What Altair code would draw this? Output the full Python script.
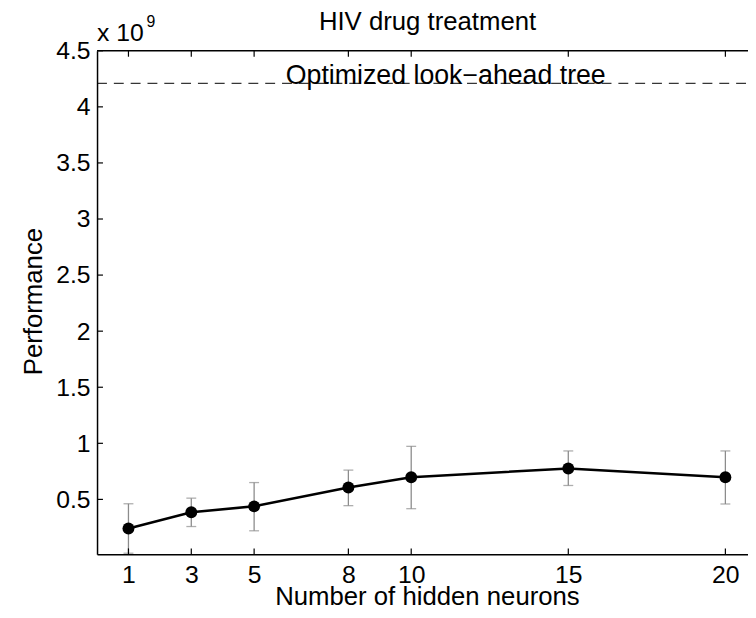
import altair as alt
import pandas as pd

# ---- data (performance in units of 1e9) ----
neurons = [1, 3, 5, 8, 10, 15, 20]
performance = [0.240, 0.385, 0.438, 0.606, 0.697, 0.776, 0.697]
err_low = [0.020, 0.258, 0.220, 0.444, 0.417, 0.624, 0.459]
err_high = [0.461, 0.511, 0.650, 0.761, 0.973, 0.932, 0.932]
x_ticks = [1, 3, 5, 8, 10, 15, 20]
y_ticks = [0.5, 1, 1.5, 2, 2.5, 3, 3.5, 4, 4.5]
reference_value = 4.21
reference_label = "Optimized look\u2212ahead tree"
title_text = "HIV drug treatment"
x_title = "Number of hidden neurons"
y_title = "Performance"

FONT = "Liberation Sans"
W, H = 658, 509
GRAY = "#8c8c8c"

df = pd.DataFrame({"n": neurons, "perf": performance, "lo": err_low, "hi": err_high})
xt = pd.DataFrame({"n": x_ticks})
yt = pd.DataFrame({"perf": y_ticks})
one = pd.DataFrame({"a": [0]})

x_scale = alt.Scale(domain=[0, 20.72], nice=False, zero=False)
y_scale = alt.Scale(domain=[0.01, 4.5], nice=False, zero=False)

x_axis = alt.Axis(values=x_ticks, format="d", title=x_title, grid=False, ticks=False,
                  domain=True, domainColor="black", domainWidth=1.5,
                  labelFont=FONT, labelFontSize=25, labelColor="black",
                  labelBaseline="alphabetic", labelPadding=28, labelFlush=False,
                  titleFont=FONT, titleFontSize=26, titleFontWeight="normal", titleColor="black",
                  titleX=333.5, titleY=51, titleAlign="center", titleBaseline="alphabetic")
y_axis = alt.Axis(values=y_ticks, format=".1~f", title=y_title, grid=False, ticks=False,
                  domain=True, domainColor="black", domainWidth=1.5,
                  labelFont=FONT, labelFontSize=25, labelColor="black",
                  labelBaseline="middle", labelPadding=7, labelFlush=False,
                  titleFont=FONT, titleFontSize=26, titleFontWeight="normal", titleColor="black",
                  titleAngle=270, titleX=-56, titleY=253, titleAlign="center",
                  titleBaseline="alphabetic")

line = alt.Chart(df).mark_line(color="black", strokeWidth=2.6).encode(
    x=alt.X("n:Q", scale=x_scale, axis=x_axis),
    y=alt.Y("perf:Q", scale=y_scale, axis=y_axis),
)
bars = alt.Chart(df).mark_rule(color=GRAY, strokeWidth=1.3).encode(
    x="n:Q", y="lo:Q", y2="hi:Q")
cap_lo = alt.Chart(df).mark_tick(orient="horizontal", size=10, thickness=1.3, color=GRAY).encode(
    x="n:Q", y="lo:Q")
cap_hi = alt.Chart(df).mark_tick(orient="horizontal", size=10, thickness=1.3, color=GRAY).encode(
    x="n:Q", y="hi:Q")
points = alt.Chart(df).mark_circle(size=145, color="black", opacity=1).encode(
    x="n:Q", y="perf:Q")

# inward ticks and top box line
bottom_ticks = alt.Chart(xt).mark_rule(color="black", strokeWidth=1.2).encode(
    x="n:Q", y=alt.value(H), y2=alt.value(H - 6))
top_ticks = alt.Chart(xt).mark_rule(color="black", strokeWidth=1.2).encode(
    x="n:Q", y=alt.value(0), y2=alt.value(6))
left_ticks = alt.Chart(yt).mark_rule(color="black", strokeWidth=1.2).encode(
    y="perf:Q", x=alt.value(0), x2=alt.value(6))
top_line = alt.Chart(one).mark_rule(color="black", strokeWidth=1.5).encode(
    x=alt.value(0), x2=alt.value(W), y=alt.value(0))

# reference line
ref_line = alt.Chart(one).mark_rule(color="black", strokeWidth=1, strokeDash=[10, 7]).encode(
    y=alt.datum(reference_value), x=alt.value(0), x2=alt.value(W))
ref_text = alt.Chart(one).mark_text(font=FONT, fontSize=27, color="black", align="center",
                                    baseline="alphabetic", dy=1).encode(
    x=alt.datum(11.1), y=alt.datum(reference_value), text=alt.value(reference_label))

# title and exponent
title = alt.Chart(one).mark_text(font=FONT, fontSize=26, color="black", align="center",
                                 baseline="alphabetic").encode(
    x=alt.datum(10.52), y=alt.value(-21), text=alt.value(title_text))
exp_base = alt.Chart(one).mark_text(font=FONT, fontSize=25, color="black", align="left",
                                    baseline="alphabetic").encode(
    x=alt.value(0), y=alt.value(-9.5), text=alt.value("x 10"))
exp_sup = alt.Chart(one).mark_text(font=FONT, fontSize=16, color="black", align="left",
                                   baseline="alphabetic").encode(
    x=alt.value(50), y=alt.value(-24.5), text=alt.value("9"))

chart = alt.layer(
    ref_line, ref_text, bars, cap_lo, cap_hi, line, points,
    bottom_ticks, top_ticks, left_ticks, top_line, title, exp_base, exp_sup,
).properties(
    width=W, height=H,
    padding={"left": 90, "top": 40, "right": 0, "bottom": 52},
    autosize=alt.AutoSizeParams(type="none"),
    background="white",
).configure_view(stroke=None)

chart.save("out.html", embed_options={"renderer": "svg", "actions": False})
